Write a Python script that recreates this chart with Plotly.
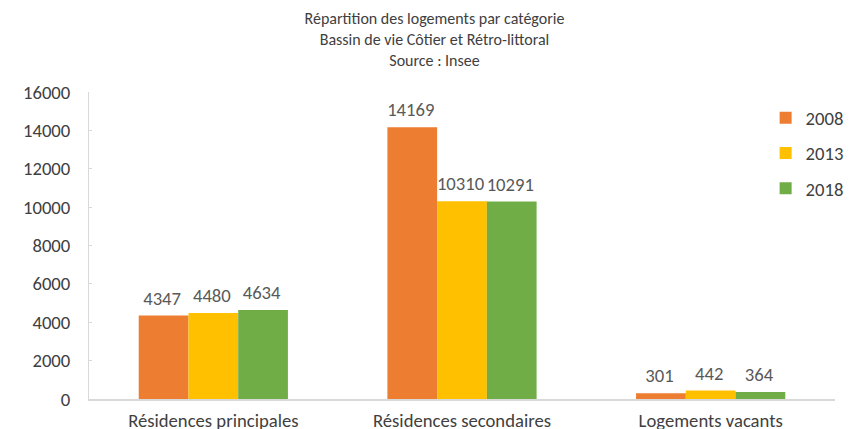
import plotly.graph_objects as go

# données
categories = ["Résidences principales", "Résidences secondaires", "Logements vacants"]
annees = ["2008", "2013", "2018"]
val_2008 = [4347, 14169, 301]
val_2013 = [4480, 10310, 442]
val_2018 = [4634, 10291, 364]
couleurs = ["#ED7D31", "#FFC000", "#70AD47"]

font_family = "Carlito, Calibri, Lato, sans-serif"
fs = 18.67  # 14pt

fig = go.Figure()
for annee, vals, coul in zip(annees, [val_2008, val_2013, val_2018], couleurs):
    # indice vide pour décoller l'étiquette du haut de la barre
    fig.add_bar(x=categories, y=vals, name=annee, legendgroup=annee, marker_color=coul,
                marker_line_width=0, texttemplate="%{y}<sub>&nbsp;</sub>",
                textposition="outside", constraintext="none",
                textfont=dict(size=fs, color="#595959"), cliponaxis=False)

# la page a une marge de 8px autour du graphique : marges décalées en conséquence
fig.update_layout(
    width=853, height=429,
    paper_bgcolor="white", plot_bgcolor="white",
    font=dict(family=font_family, size=fs, color="#404040"),
    title=dict(text="Répartition des logements par catégorie<br>Bassin de vie Côtier et Rétro-littoral<br>Source : Insee",
               x=0.5, xanchor="center", yref="container", y=0.962, yanchor="top",
               font=dict(size=16, color="#404040")),
    margin=dict(l=81, r=12, t=84, b=38),
    barmode="group", bargap=0.4, bargroupgap=0,
    showlegend=True,
    legend=dict(x=0.907, y=0.977, xanchor="left", yanchor="top",
                font=dict(size=fs, color="#404040"), tracegroupgap=8,
                itemwidth=30, bgcolor="rgba(0,0,0,0)"),
)
fig.update_xaxes(showline=True, linecolor="#D9D9D9", linewidth=1.5, automargin=False,
                 tickfont=dict(size=fs, color="#404040"), ticks="", ticklabelstandoff=4)
fig.update_yaxes(range=[0, 16000], dtick=2000, tickformat="d", showgrid=False,
                 zeroline=False, automargin=False,
                 showline=True, linecolor="#D9D9D9", linewidth=1,
                 ticks="inside", ticklen=3, tickcolor="#D9D9D9",
                 tickfont=dict(size=fs, color="#404040"), ticklabelstandoff=14)

fig.write_html("out.html")
